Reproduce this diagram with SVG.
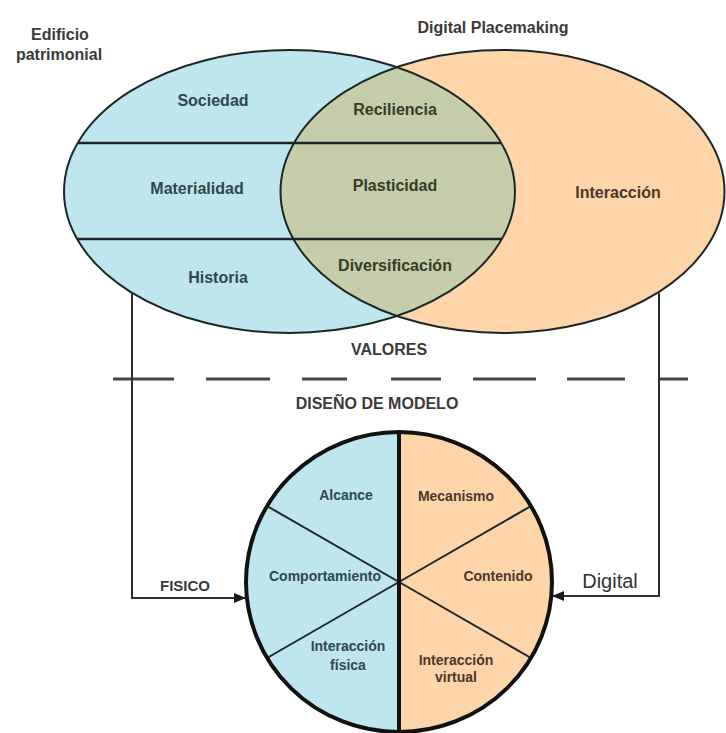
<svg xmlns="http://www.w3.org/2000/svg" width="726" height="733" viewBox="0 0 726 733">
<defs>
<style>
.t{font-family:"Liberation Sans",Arial,sans-serif;font-weight:bold;text-anchor:middle}
.big{font-size:16px}
.sm{font-size:14px}
.tb{fill:#2f474f}
.to{fill:#4a3828}
.tl{fill:#363c28}
.tg{fill:#3a3a3a}
.edge{fill:none;stroke:#1c2626;stroke-width:2}
.conn{fill:none;stroke:#2e2e2e;stroke-width:2}
.dash{stroke:#444;stroke-width:3}
</style>
<clipPath id="clipL"><ellipse cx="289.5" cy="191.5" rx="225.5" ry="141.5"/></clipPath>
<marker id="ah" viewBox="0 0 12 10" refX="11" refY="5" markerWidth="12" markerHeight="10" markerUnits="userSpaceOnUse" orient="auto">
<path d="M0,0 L12,5 L0,10 Z" fill="#1a1a1a"/>
</marker>
</defs>
<rect width="726" height="733" fill="#ffffff"/>

<g id="venn">
<ellipse cx="289.5" cy="191.5" rx="225.5" ry="141.5" fill="#bde6ee"/>
<ellipse cx="502.5" cy="191.5" rx="222" ry="141.5" fill="#fdd5a8"/>
<ellipse cx="502.5" cy="191.5" rx="222" ry="141.5" fill="#c5cda9" clip-path="url(#clipL)"/>
<g clip-path="url(#clipL)">
<line x1="60" y1="143" x2="520" y2="143" stroke="#1c2626" stroke-width="2.5"/>
<line x1="60" y1="239" x2="520" y2="239" stroke="#1c2626" stroke-width="2.5"/>
</g>
<ellipse class="edge" cx="289.5" cy="191.5" rx="225.5" ry="141.5"/>
<ellipse class="edge" cx="502.5" cy="191.5" rx="222" ry="141.5"/>
</g>

<g id="titles">
<text class="t big tg" x="60" y="40">Edificio</text>
<text class="t big tg" x="59" y="60">patrimonial</text>
<text class="t big tg" x="493" y="33">Digital Placemaking</text>
</g>

<g id="sociedad"><text class="t big tb" x="213" y="106">Sociedad</text></g>
<g id="materialidad"><text class="t big tb" x="197" y="194">Materialidad</text></g>
<g id="historia"><text class="t big tb" x="218" y="283">Historia</text></g>
<g id="reciliencia"><text class="t big tl" x="395" y="115">Reciliencia</text></g>
<g id="plasticidad"><text class="t big tl" x="395" y="191">Plasticidad</text></g>
<g id="diversificacion"><text class="t big tl" x="395" y="271">Diversificación</text></g>
<g id="interaccion"><text class="t big to" x="618" y="198">Interacción</text></g>

<g id="divider">
<line class="dash" x1="113" y1="379" x2="174" y2="379"/>
<line class="dash" x1="206" y1="379" x2="270" y2="379"/>
<line class="dash" x1="302" y1="379" x2="347" y2="379"/>
<line class="dash" x1="391" y1="379" x2="441" y2="379"/>
<line class="dash" x1="473" y1="379" x2="536" y2="379"/>
<line class="dash" x1="567" y1="379" x2="625" y2="379"/>
<line class="dash" x1="659" y1="379" x2="688" y2="379"/>
<text class="t big tg" x="389" y="355">VALORES</text>
<text class="t big tg" x="377" y="409">DISEÑO DE MODELO</text>
</g>

<g id="connectors">
<path class="conn" d="M132,292 V598 H245" marker-end="url(#ah)"/>
<path class="conn" d="M659,293 V596 H553" marker-end="url(#ah)"/>
<text class="t tg" x="185" y="591" style="font-size:15px">FISICO</text>
<text x="610" y="588" style="font-family:'Liberation Sans',Arial,sans-serif;font-size:20px;text-anchor:middle;fill:#333">Digital</text>
</g>

<g id="modelo">
<clipPath id="clipC"><ellipse cx="399" cy="582" rx="153" ry="150"/></clipPath>
<g clip-path="url(#clipC)">
<rect x="240" y="430" width="159" height="305" fill="#bde6ee"/>
<rect x="399" y="430" width="160" height="305" fill="#fdd5a8"/>
<line x1="399" y1="582" x2="267" y2="506" stroke="#1c2626" stroke-width="2"/>
<line x1="399" y1="582" x2="267" y2="658" stroke="#1c2626" stroke-width="2"/>
<line x1="399" y1="582" x2="531" y2="506" stroke="#1c2626" stroke-width="2"/>
<line x1="399" y1="582" x2="531" y2="658" stroke="#1c2626" stroke-width="2"/>
</g>
<line x1="399" y1="432" x2="399" y2="732" stroke="#111" stroke-width="4"/>
<ellipse cx="399" cy="582" rx="153" ry="150" fill="none" stroke="#111" stroke-width="4"/>
</g>

<g id="alcance"><text class="t sm tb" x="346" y="500">Alcance</text></g>
<g id="comportamiento"><text class="t sm tb" x="325" y="581">Comportamiento</text></g>
<g id="interaccion-fisica"><text class="t sm tb" x="348" y="651">Interacción</text><text class="t sm tb" x="348" y="670">física</text></g>
<g id="mecanismo"><text class="t sm to" x="456" y="501">Mecanismo</text></g>
<g id="contenido"><text class="t sm to" x="498" y="581">Contenido</text></g>
<g id="interaccion-virtual"><text class="t sm to" x="456" y="665">Interacción</text><text class="t sm to" x="456" y="682">virtual</text></g>
</svg>
